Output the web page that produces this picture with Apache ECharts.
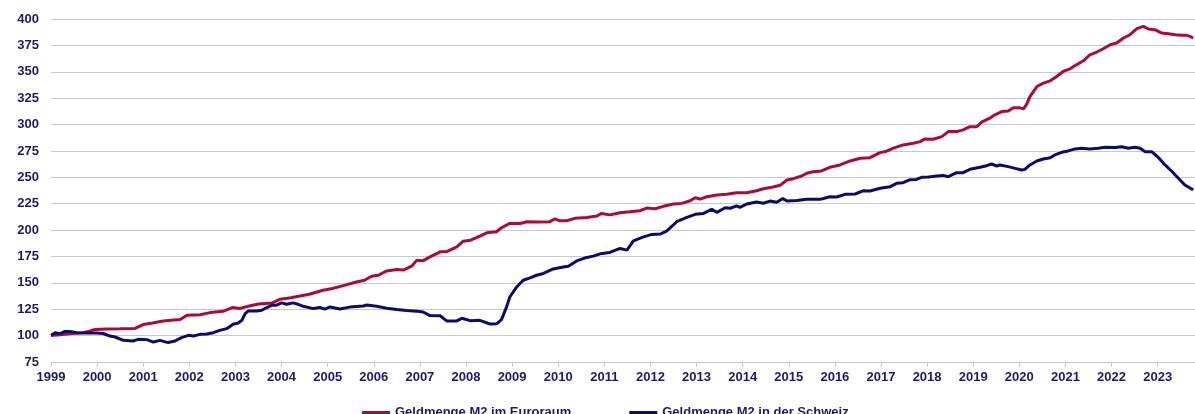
<!DOCTYPE html>
<html>
<head>
<meta charset="utf-8">
<script src="https://cdn.jsdelivr.net/npm/echarts@6/dist/echarts.min.js"></script>
<style>
  html, body { margin: 0; padding: 0; background: #fff; }
  main { width: 1195px; height: 414px; }
</style>
</head>
<body>
<main></main>
<script>
// Readings: [fractional year] and index value (Jan 1999 = 100)
const euroYears = [
  1999.00, 1999.20, 1999.45, 1999.70, 1999.85, 1999.95, 2000.20, 2000.50, 2000.82, 2001.00,
  2001.20, 2001.43, 2001.60, 2001.80, 2001.95, 2002.23, 2002.45, 2002.73, 2002.93, 2003.10,
  2003.30, 2003.50, 2003.80, 2003.97, 2004.20, 2004.60, 2004.90, 2005.10, 2005.38, 2005.60,
  2005.80, 2005.95, 2006.10, 2006.28, 2006.50, 2006.65, 2006.82, 2006.93, 2007.07, 2007.22,
  2007.44, 2007.58, 2007.80, 2007.94, 2008.10, 2008.30, 2008.45, 2008.66, 2008.77, 2008.95,
  2009.17, 2009.32, 2009.60, 2009.82, 2009.93, 2010.04, 2010.18, 2010.36, 2010.62, 2010.84,
  2010.94, 2011.12, 2011.34, 2011.55, 2011.77, 2011.92, 2012.10, 2012.28, 2012.50, 2012.68,
  2012.86, 2012.97, 2013.08, 2013.22, 2013.44, 2013.65, 2013.87, 2014.09, 2014.30, 2014.45,
  2014.66, 2014.81, 2014.96, 2015.10, 2015.28, 2015.39, 2015.53, 2015.71, 2015.89, 2016.11,
  2016.33, 2016.55, 2016.76, 2016.98, 2017.12, 2017.30, 2017.48, 2017.70, 2017.85, 2017.95,
  2018.13, 2018.32, 2018.46, 2018.64, 2018.78, 2018.93, 2019.08, 2019.18, 2019.36, 2019.47,
  2019.62, 2019.76, 2019.87, 2020.01, 2020.09, 2020.16, 2020.23, 2020.38, 2020.52, 2020.67,
  2020.81, 2020.95, 2021.10, 2021.24, 2021.39, 2021.53, 2021.68, 2021.82, 2021.97, 2022.11,
  2022.26, 2022.40, 2022.55, 2022.69, 2022.80, 2022.94, 2023.09, 2023.23, 2023.38, 2023.52,
  2023.63, 2023.70, 2023.77
]
const euroValues = [
  100.0, 100.8, 102.0, 102.8, 104.4, 105.8, 106.3, 106.5, 106.8, 110.5,
  112.0, 113.9, 114.5, 115.2, 119.3, 119.8, 121.8, 123.0, 126.6, 125.8,
  128.0, 130.0, 131.0, 134.5, 135.8, 139.2, 143.0, 144.6, 147.8, 150.6,
  152.5, 156.3, 157.2, 161.3, 162.6, 162.2, 165.8, 171.3, 171.0, 174.6,
  179.4, 179.6, 184.1, 189.5, 190.4, 194.3, 197.4, 198.4, 202.2, 206.3,
  206.3, 207.9, 207.7, 208.0, 210.7, 208.8, 208.8, 211.1, 212.0, 213.3,
  215.8, 214.4, 216.4, 217.3, 218.3, 220.9, 220.2, 222.5, 224.7, 225.3,
  227.8, 230.6, 229.4, 231.6, 233.2, 233.9, 235.4, 235.4, 237.3, 239.2,
  240.8, 242.4, 247.4, 248.7, 251.2, 253.8, 255.3, 256.0, 259.5, 261.7,
  265.5, 268.0, 268.6, 273.4, 274.7, 278.1, 280.7, 282.3, 283.8, 286.4,
  286.1, 288.5, 293.3, 293.3, 294.9, 298.0, 298.0, 302.2, 306.0, 309.2,
  312.3, 312.9, 316.0, 315.8, 314.8, 319.3, 326.5, 336.0, 339.2, 341.4,
  345.5, 350.3, 352.8, 356.6, 360.4, 366.1, 368.7, 371.8, 375.6, 377.2,
  382.0, 385.1, 390.8, 393.0, 390.5, 389.9, 386.7, 386.1, 385.1, 384.5,
  384.5, 383.5, 382.0
]

const swissYears = [
  1999.00, 1999.09, 1999.20, 1999.30, 1999.41, 1999.56, 1999.77, 1999.99, 2000.13, 2000.28,
  2000.39, 2000.57, 2000.78, 2000.89, 2001.08, 2001.22, 2001.36, 2001.54, 2001.69, 2001.83,
  2001.98, 2002.09, 2002.23, 2002.38, 2002.52, 2002.66, 2002.81, 2002.95, 2003.06, 2003.14,
  2003.21, 2003.28, 2003.46, 2003.57, 2003.68, 2003.79, 2003.89, 2004.00, 2004.11, 2004.25,
  2004.36, 2004.47, 2004.69, 2004.83, 2004.94, 2005.05, 2005.27, 2005.48, 2005.77, 2005.85,
  2006.06, 2006.28, 2006.50, 2006.71, 2006.93, 2007.07, 2007.22, 2007.44, 2007.58, 2007.80,
  2007.91, 2008.09, 2008.30, 2008.52, 2008.67, 2008.77, 2008.88, 2008.95, 2009.10, 2009.24,
  2009.39, 2009.53, 2009.68, 2009.89, 2010.11, 2010.22, 2010.40, 2010.62, 2010.76, 2010.91,
  2011.12, 2011.34, 2011.49, 2011.63, 2011.85, 2012.03, 2012.21, 2012.35, 2012.57, 2012.79,
  2012.97, 2013.15, 2013.33, 2013.44, 2013.62, 2013.73, 2013.87, 2013.94, 2014.09, 2014.30,
  2014.45, 2014.59, 2014.74, 2014.87, 2014.96, 2015.17, 2015.39, 2015.68, 2015.75, 2015.89,
  2016.04, 2016.22, 2016.44, 2016.62, 2016.76, 2016.98, 2017.20, 2017.34, 2017.48, 2017.63,
  2017.77, 2017.88, 2018.03, 2018.21, 2018.35, 2018.46, 2018.64, 2018.78, 2018.93, 2019.15,
  2019.29, 2019.40, 2019.51, 2019.58, 2019.76, 2019.91, 2020.05, 2020.12, 2020.23, 2020.38,
  2020.52, 2020.67, 2020.77, 2020.92, 2021.06, 2021.21, 2021.35, 2021.53, 2021.71, 2021.86,
  2022.08, 2022.22, 2022.36, 2022.51, 2022.62, 2022.73, 2022.87, 2023.01, 2023.16, 2023.30,
  2023.45, 2023.59, 2023.74, 2023.77
]
const swissValues = [
  100.3, 102.8, 101.9, 104.0, 104.0, 102.8, 102.5, 102.5, 102.0, 99.6,
  98.7, 95.5, 94.9, 96.5, 96.2, 93.9, 95.5, 93.4, 94.9, 98.1,
  100.3, 99.6, 101.2, 101.5, 102.8, 105.0, 106.6, 110.7, 112.0, 114.5,
  120.9, 123.4, 123.4, 124.0, 126.6, 128.8, 128.8, 131.0, 129.7, 131.0,
  129.7, 127.8, 125.6, 126.6, 125.2, 127.2, 125.2, 127.0, 128.0, 129.0,
  127.8, 126.0, 124.7, 123.7, 123.2, 122.4, 119.0, 118.8, 113.9, 113.9,
  116.4, 114.2, 114.5, 111.0, 111.3, 115.2, 127.2, 136.6, 146.1, 152.5,
  154.7, 157.2, 158.9, 163.2, 165.1, 165.8, 170.8, 174.1, 175.3, 177.5,
  178.8, 182.6, 181.0, 189.8, 193.6, 195.9, 196.2, 199.0, 207.9, 212.0,
  214.9, 215.8, 219.6, 216.8, 221.1, 220.7, 223.0, 221.5, 224.7, 226.6,
  225.4, 227.5, 226.3, 230.0, 227.5, 228.0, 229.1, 229.1, 229.9, 231.6,
  231.3, 233.9, 234.2, 237.3, 237.0, 239.6, 241.1, 244.3, 244.9, 247.7,
  248.0, 250.0, 250.3, 251.2, 251.8, 250.6, 254.4, 254.4, 257.6, 259.5,
  261.0, 262.6, 260.7, 261.7, 260.1, 258.5, 256.9, 257.5, 261.7, 265.5,
  267.4, 268.6, 271.2, 273.7, 275.0, 276.9, 277.5, 276.9, 277.5, 278.5,
  278.2, 279.0, 277.5, 278.5, 277.5, 274.3, 274.3, 269.0, 261.7, 256.0,
  249.1, 242.7, 238.9, 238.0
]

const seriesNames = ['Geldmenge M2 im Euroraum', 'Geldmenge M2 in der Schweiz']
const yTicks = { min: 75, max: 400, step: 25 }
const xTicks = { min: 1999, max: 2023.81, step: 1 }

const RED = '#B0083A'
const NAVY = '#0B0B6B'
const TEXT = '#1B1B6E'
const GRID = '#C8C8C8'
const FONT = 'Arial, "Liberation Sans", sans-serif'

function pairs(xs, ys) {
  return xs.map((x, i) => [x, ys[i]])
}

const chart = echarts.init(document.querySelector('main'), null, { renderer: 'canvas' })

chart.setOption({
  animation: false,
  backgroundColor: '#fff',
  textStyle: { fontFamily: FONT },
  grid: { left: 51, right: 0, top: 19, bottom: 52, containLabel: false },
  legend: {
    left: 357,
    top: 401,
    itemWidth: 28,
    itemHeight: 3,
    itemGap: 58,
    icon: 'rect',
    textStyle: { color: TEXT, fontWeight: 'bold', fontSize: 13, fontFamily: FONT },
    data: seriesNames,
  },
  xAxis: {
    type: 'value',
    min: xTicks.min,
    max: xTicks.max,
    interval: xTicks.step,
    axisLine: { lineStyle: { color: GRID, width: 1 } },
    axisTick: { show: true, length: 5, lineStyle: { color: GRID } },
    splitLine: { show: false },
    axisLabel: {
      color: TEXT,
      fontWeight: 'bold',
      fontSize: 13,
      fontFamily: FONT,
      margin: 9,
      showMaxLabel: false,
      formatter: (v) => (Number.isInteger(v) ? String(v) : ''),
    },
  },
  yAxis: {
    type: 'value',
    min: yTicks.min,
    max: yTicks.max,
    interval: yTicks.step,
    axisLine: { show: false },
    axisTick: { show: false },
    splitLine: { lineStyle: { color: GRID, width: 1 } },
    axisLabel: {
      color: TEXT,
      fontWeight: 'bold',
      fontSize: 13,
      fontFamily: FONT,
      margin: 12,
    },
  },
  series: [
    {
      name: seriesNames[0],
      type: 'line',
      showSymbol: false,
      symbol: 'none',
      color: RED,
      lineStyle: { color: RED, width: 3 },
      data: pairs(euroYears, euroValues),
    },
    {
      name: seriesNames[1],
      type: 'line',
      showSymbol: false,
      symbol: 'none',
      color: NAVY,
      lineStyle: { color: NAVY, width: 3 },
      data: pairs(swissYears, swissValues),
    },
  ],
})
</script>
</body>
</html>
